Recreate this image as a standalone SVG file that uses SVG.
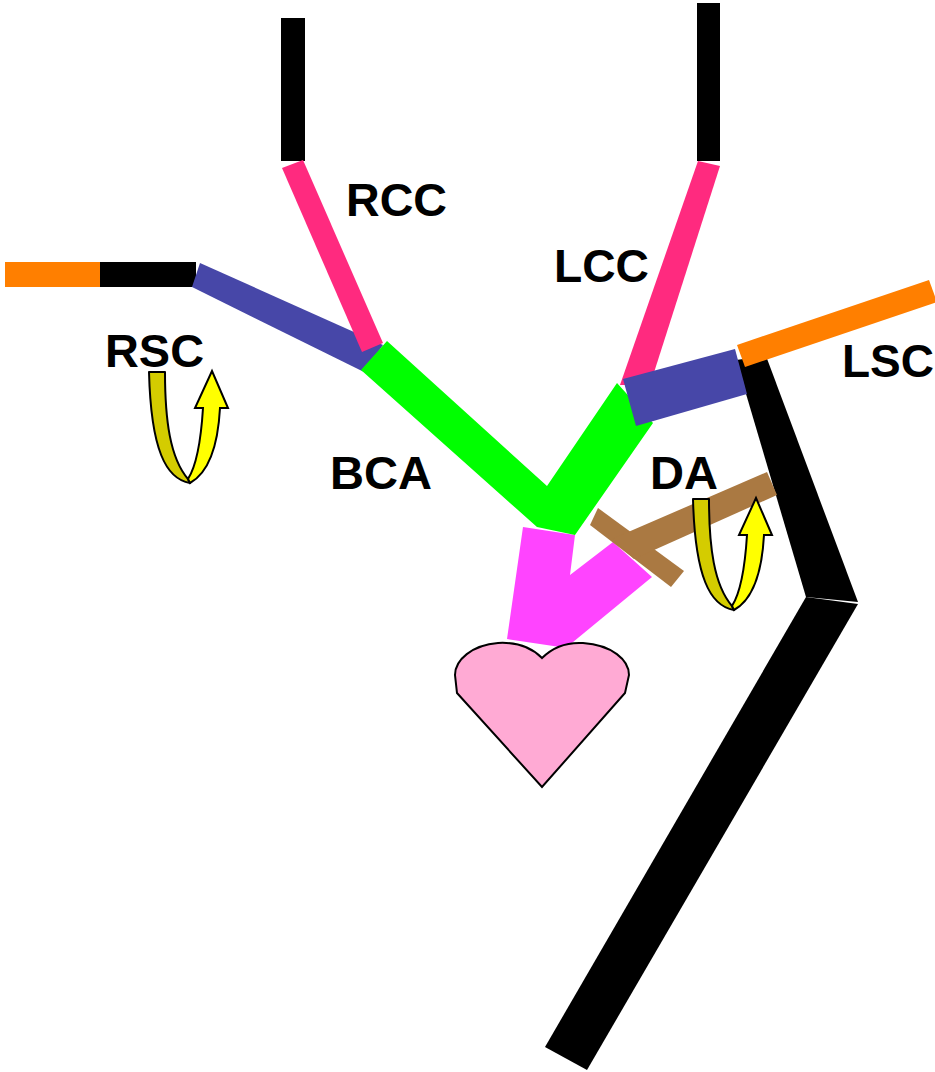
<svg xmlns="http://www.w3.org/2000/svg" width="935" height="1072" viewBox="0 0 935 1072">
  <style>
    .lbl { font-family: "Liberation Sans", Arial, sans-serif; font-weight: bold; font-size: 47px; fill: #000; }
    .blk { fill: #000; }
    .org { fill: #FF7F00; }
    .blu { fill: #4747A8; }
    .rose { fill: #FF2A7F; }
    .grn { fill: #00FF00; }
    .mag { fill: #FF44FF; }
    .brn { fill: #AA7942; }
    .band-back { fill: #D4CC00; stroke: #000; stroke-width: 2; stroke-linejoin: round; }
    .band-front { fill: #FFFF00; stroke: #000; stroke-width: 2; stroke-linejoin: miter; }
  </style>
  <defs>
    <!-- twisted ribbon arrow showing rotation -->
    <g id="twist">
      <path class="band-back" d="M149,372 L165,372 C165,420 170,458 188,479 L190,483 C166,479 151,450 149,372 Z"/>
      <path class="band-front" d="M188,479 C197,465 201,440 203,408 L195,408 L212,371 L228,408 L220,408 C218,445 210,472 190,483 Z"/>
    </g>
  </defs>

  <!-- descending aorta -->
  <g id="descending">
    <polygon class="blk" points="736,360 766,356 858,602 806,597"/>
    <polygon class="blk" points="806,597 858,604 587,1070 545,1047"/>
  </g>

  <!-- right side: subclavian and common carotid -->
  <g id="rsc">
    <rect class="org" x="5" y="262" width="96" height="25"/>
    <rect class="blk" x="100" y="262" width="96" height="25"/>
    <polygon class="blu" points="200,263 383,345 364,372 192,287"/>
  </g>
  <g id="rcc">
    <rect class="blk" x="281" y="18" width="24" height="143"/>
    <polygon class="rose" points="282,168 303,160 383,343 362,352"/>
  </g>

  <!-- left side: common carotid and subclavian -->
  <g id="lcc">
    <rect class="blk" x="697" y="3" width="23" height="158"/>
    <polygon class="rose" points="698,161 720,166 650,385 620,385"/>
  </g>

  <!-- outflow limbs -->
  <g id="outflow">
    <polygon class="mag" points="523,527 575,535 570,575 613,542 652,577 567,647 560,647 507,639"/>
  </g>
  <g id="bca">
    <polygon class="grn" points="361,370 537,527 575,535 653,423 617,383 547,486 387,341"/>
  </g>

  <g id="lsc">
    <polygon class="org" points="737,345 929,280 937,302 745,367"/>
    <polygon class="blu" points="623,379 735,349 747,394 636,426"/>
  </g>

  <!-- ductus arteriosus -->
  <g id="da">
    <polygon class="brn" points="598,508 684,571 671,587 590,525"/>
    <polygon class="brn" points="612,539 767,472 777,495 634,559"/>
  </g>

  <!-- heart -->
  <g id="heart">
    <path d="M542,658 C530,646 516,642 498,643 C472,645 455,660 455,675 L457,693 L542,787 L625,693 L629,675 C629,660 612,645 583,643 C566,642 553,647 542,658 Z" fill="#FFAAD4" stroke="#000" stroke-width="2"/>
  </g>

  <!-- rotation arrows -->
  <g id="rsc-rotation">
    <use href="#twist"/>
  </g>
  <g id="da-rotation">
    <use href="#twist" transform="translate(544,127)"/>
  </g>

  <!-- labels -->
  <g id="labels">
    <text class="lbl" x="346" y="216" textLength="101" lengthAdjust="spacingAndGlyphs">RCC</text>
    <text class="lbl" x="554" y="282" textLength="95" lengthAdjust="spacingAndGlyphs">LCC</text>
    <text class="lbl" x="105" y="367" textLength="99" lengthAdjust="spacingAndGlyphs">RSC</text>
    <text class="lbl" x="842" y="377" textLength="92" lengthAdjust="spacingAndGlyphs">LSC</text>
    <text class="lbl" x="330" y="489" textLength="102" lengthAdjust="spacingAndGlyphs">BCA</text>
    <text class="lbl" x="650" y="489" textLength="68" lengthAdjust="spacingAndGlyphs">DA</text>
  </g>
</svg>
